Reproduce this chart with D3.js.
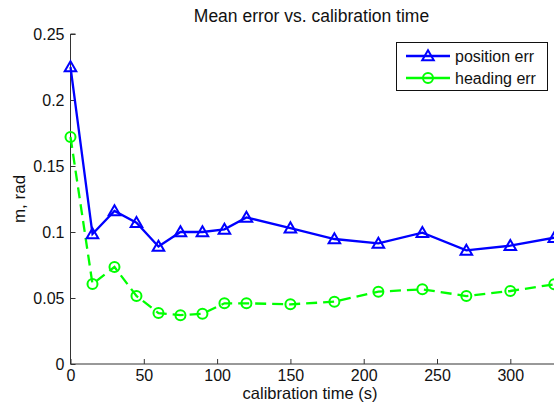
<!DOCTYPE html>
<html>
<head>
<meta charset="utf-8">
<script src="https://cdn.jsdelivr.net/npm/d3@7"></script>
<style>
  body { margin: 0; background: #fff; }
  svg { display: block; font-family: "Liberation Sans", Arial, Helvetica, sans-serif; }
</style>
</head>
<body>
<script>
const calibTime = [0, 15, 30, 45, 60, 75, 90, 105, 120, 150, 180, 210, 240, 270, 300, 330]
const positionErr = [0.225, 0.0985, 0.116, 0.107, 0.089, 0.100, 0.100, 0.102, 0.111, 0.103, 0.0947, 0.0914, 0.0995, 0.0861, 0.0896, 0.0957]
const headingErr = [0.172, 0.0606, 0.0735, 0.0515, 0.0386, 0.037, 0.038, 0.046, 0.046, 0.0452, 0.0472, 0.0548, 0.0566, 0.0515, 0.0553, 0.0604]
const xTicks = [0, 50, 100, 150, 200, 250, 300]
const yTicks = [0, 0.05, 0.1, 0.15, 0.2, 0.25]

const W = 554, H = 411
const svg = d3.select('body').append('svg').attr('width', W).attr('height', H)

const x = d3.scaleLinear().domain([0, 330]).range([70.5, 554.3])
const y = d3.scaleLinear().domain([0, 0.25]).range([364, 34])

// axes (box off, ticks pointing in)
const axisColor = '#333'
const xAxis = svg.append('g').attr('transform', 'translate(0,' + y(0) + ')')
  .call(d3.axisBottom(x).tickValues(xTicks).tickSize(-5).tickPadding(6).tickFormat(d3.format('d')))
const yAxis = svg.append('g').attr('transform', 'translate(' + x(0) + ',0)')
  .call(d3.axisLeft(y).tickValues(yTicks).tickSize(-5).tickPadding(6).tickFormat(d => d === 0 ? '0' : String(d)))

for (const ax of [xAxis, yAxis]) {
  ax.select('.domain').attr('stroke', axisColor).attr('stroke-width', 1)
  ax.selectAll('.tick line').attr('stroke', axisColor)
  ax.selectAll('text').attr('fill', '#111').style('font-size', '16px')
    .style('font-family', '"Liberation Sans", Arial, sans-serif')
}
xAxis.selectAll('text').attr('dy', '0.68em')
xAxis.select('.domain').attr('d', 'M' + x(0) + ',0H' + (W + 5))
yAxis.select('.domain').attr('d', 'M0,' + y(0) + 'V' + y(0.25) + 'h5')

// series
const line = d3.line().x(d => x(d[0])).y(d => y(d[1]))
const posData = calibTime.map((t, i) => [t, positionErr[i]])
const headData = calibTime.map((t, i) => [t, headingErr[i]])

svg.append('path').datum(headData).attr('d', line)
  .attr('fill', 'none').attr('stroke', '#00ff00').attr('stroke-width', 2.3)
  .attr('stroke-dasharray', '11,6')
svg.append('path').datum(posData).attr('d', line)
  .attr('fill', 'none').attr('stroke', '#0000ff').attr('stroke-width', 2.3)

const tri = d3.symbol().type(d3.symbolTriangle).size(58)
svg.selectAll('.pos').data(posData).join('path')
  .attr('transform', d => 'translate(' + x(d[0]) + ',' + (y(d[1]) + 1) + ')')
  .attr('d', tri).attr('fill', 'none').attr('stroke', '#0000ff').attr('stroke-width', 2)
svg.selectAll('.head').data(headData).join('circle')
  .attr('cx', d => x(d[0])).attr('cy', d => y(d[1])).attr('r', 5)
  .attr('fill', 'none').attr('stroke', '#00ff00').attr('stroke-width', 2)

// title and labels
svg.append('text').attr('x', 311.5).attr('y', 22).attr('text-anchor', 'middle')
  .style('font-size', '17.5px').attr('fill', '#111').text('Mean error vs. calibration time')
svg.append('text').attr('x', 310).attr('y', 399).attr('text-anchor', 'middle')
  .style('font-size', '16.5px').attr('fill', '#111').text('calibration time (s)')
svg.append('text').attr('transform', 'translate(25,199) rotate(-90)').attr('text-anchor', 'middle')
  .style('font-size', '17px').attr('fill', '#111').text('m, rad')

// legend
const lg = svg.append('g')
lg.append('rect').attr('x', 396.5).attr('y', 42.5).attr('width', 151).attr('height', 48)
  .attr('fill', '#fff').attr('stroke', '#111').attr('stroke-width', 1)
const items = [
  { label: 'position err', color: '#0000ff', marker: 'tri', y: 56 },
  { label: 'heading err', color: '#00ff00', marker: 'circ', y: 78 }
]
for (const it of items) {
  lg.append('line').attr('x1', 406).attr('x2', 450).attr('y1', it.y).attr('y2', it.y)
    .attr('stroke', it.color).attr('stroke-width', 2.3)
  if (it.marker === 'tri') {
    lg.append('path').attr('transform', 'translate(428,' + (it.y + 1) + ')').attr('d', tri)
      .attr('fill', 'none').attr('stroke', it.color).attr('stroke-width', 2)
  } else {
    lg.append('circle').attr('cx', 428).attr('cy', it.y).attr('r', 5)
      .attr('fill', 'none').attr('stroke', it.color).attr('stroke-width', 2)
  }
  lg.append('text').attr('x', 455).attr('y', it.y + 6).style('font-size', '16px')
    .attr('fill', '#111').text(it.label)
}
</script>
</body>
</html>
